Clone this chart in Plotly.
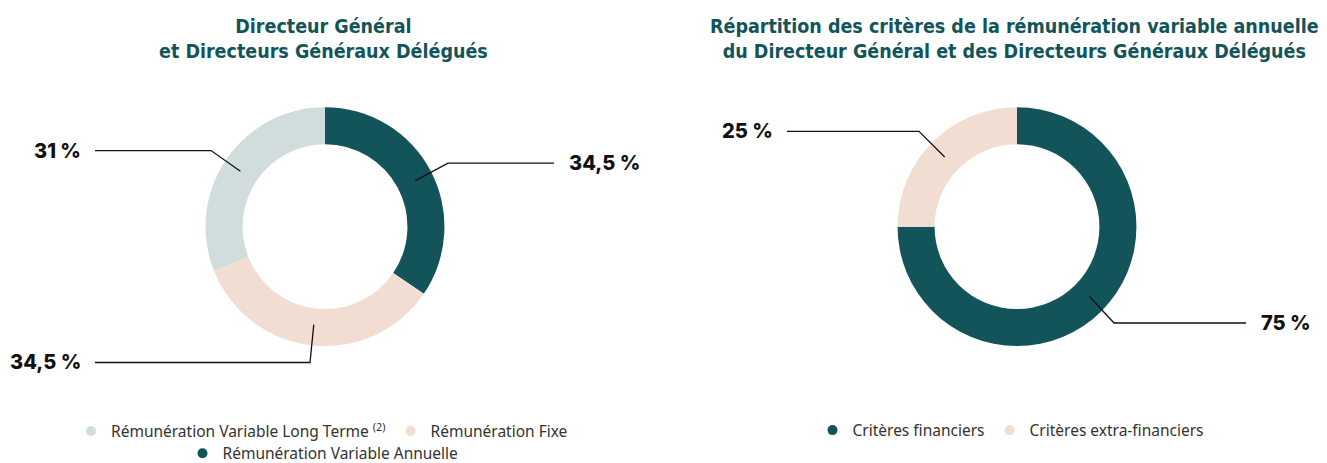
import math
import plotly.graph_objects as go

W, H = 1327, 463

# ---- Data ----
pie1_labels = ["Rémunération Variable Long Terme <sup>(2)</sup>", "Rémunération Fixe", "Rémunération Variable Annuelle"]
pie1_values = [31, 34.5, 34.5]
pie1_text = ["31 %", "34,5 %", "34,5 %"]
pie1_colors = ["#D1DCDC", "#F2DDD3", "#12545A"]

pie2_labels = ["Critères financiers", "Critères extra-financiers"]
pie2_values = [75, 25]
pie2_text = ["75 %", "25 %"]
pie2_colors = ["#12545A", "#F2DDD3"]

title1 = "Directeur Général<br>et Directeurs Généraux Délégués"
title2 = "Répartition des critères de la rémunération variable annuelle<br>du Directeur Général et des Directeurs Généraux Délégués"

TEAL = "#12545A"

# page offset compensation (browser body margin)
OX, OY = -8, -2


def px(x):
    return (x + OX) / W


def py(y):
    return 1 - (y + OY) / H


# donut geometry (pixels)
C1 = (325, 229)
C2 = (1017, 229)
R = 121
RD = 124  # domain half-size
HOLE = 0.69

fig = go.Figure()


def add_pie(center, labels, values, colors):
    cx, cy = center
    fig.add_trace(go.Pie(
        labels=labels, values=values, sort=False, direction="clockwise", rotation=0,
        hole=HOLE, marker=dict(colors=colors, line=dict(width=0)),
        textinfo="none", hoverinfo="label+percent", showlegend=False,
        domain=dict(x=[px(cx - RD), px(cx + RD)], y=[py(cy + RD), py(cy - RD)]),
    ))


# pie 1 drawn clockwise from 12 o'clock: Annuelle, Fixe, Long Terme
order1 = [2, 1, 0]
p1_vals = [pie1_values[i] for i in order1]
add_pie(C1, [pie1_labels[i] for i in order1], p1_vals, [pie1_colors[i] for i in order1])
add_pie(C2, pie2_labels, pie2_values, pie2_colors)


def mid_point(center, values, idx):
    total = sum(values)
    start = sum(values[:idx]) / total * 360
    mid = start + values[idx] / total * 180
    r = R * (1 + HOLE) / 2
    return center[0] + r * math.sin(math.radians(mid)), center[1] - r * math.cos(math.radians(mid))


def leader(center, values, idx, elbow, end, text, text_x, side):
    x0, y0 = mid_point(center, values, idx)
    fig.add_shape(type="path", xref="paper", yref="paper",
                  path=f"M {px(x0)} {py(y0)} L {px(elbow[0])} {py(elbow[1])} L {px(end)} {py(elbow[1])}",
                  line=dict(color="#111111", width=1.3))
    fig.add_annotation(x=px(text_x), y=py(elbow[1]), xref="paper", yref="paper",
                       text=text, showarrow=False,
                       xanchor="left" if side == "right" else "right", yanchor="middle",
                       font=dict(family="Inter", size=20, weight=800, color="#111111"))


# pie 1 labels (indices in drawing order)
leader(C1, p1_vals, 2, (211, 150), 95, pie1_text[0], 83, "left")
leader(C1, p1_vals, 1, (310, 370), 95, pie1_text[1], 83, "left")
leader(C1, p1_vals, 0, (448, 163), 554, pie1_text[2], 567, "right")
# pie 2 labels
leader(C2, pie2_values, 1, (919, 130), 787, pie2_text[1], 775, "left")
leader(C2, pie2_values, 0, (1114, 329), 1246, pie2_text[0], 1259, "right")

# titles
for tx, t in [(323, title1), (1014, title2)]:
    fig.add_annotation(x=px(tx), y=py(34), xref="paper", yref="paper", text=f"<b>{t}</b>",
                       showarrow=False, xanchor="center", yanchor="middle",
                       font=dict(family="DejaVu Sans Condensed", size=19.5, color=TEAL))

# legends (circle markers via marker-only traces)
legend_font = dict(family="Noto Sans", size=15.5, color="#333333")
entries = [
    (pie1_labels[0], pie1_colors[0], "legend"),
    (pie1_labels[1], pie1_colors[1], "legend"),
    (pie1_labels[2], pie1_colors[2], "legend3"),
    (pie2_labels[0], pie2_colors[0], "legend2"),
    (pie2_labels[1], pie2_colors[1], "legend2"),
]
for name, col, lg in entries:
    fig.add_trace(go.Scatter(x=[None], y=[None], mode="markers", name=name, legend=lg,
                             marker=dict(color=col, size=10, symbol="circle"),
                             hoverinfo="skip"))

leg_common = dict(orientation="h", xanchor="center", yanchor="top", font=legend_font,
                  bgcolor="rgba(0,0,0,0)", itemwidth=30, itemclick=False, itemdoubleclick=False)

fig.update_layout(
    width=W, height=H,
    margin=dict(l=0, r=0, t=0, b=0),
    paper_bgcolor="white", plot_bgcolor="white",
    xaxis=dict(visible=False), yaxis=dict(visible=False),
    legend=dict(x=px(322), y=py(424), **leg_common),
    legend3=dict(x=px(323), y=py(447), **leg_common),
    legend2=dict(x=px(1011), y=py(423), **leg_common),
    showlegend=True,
)

fig.write_html("out.html")
